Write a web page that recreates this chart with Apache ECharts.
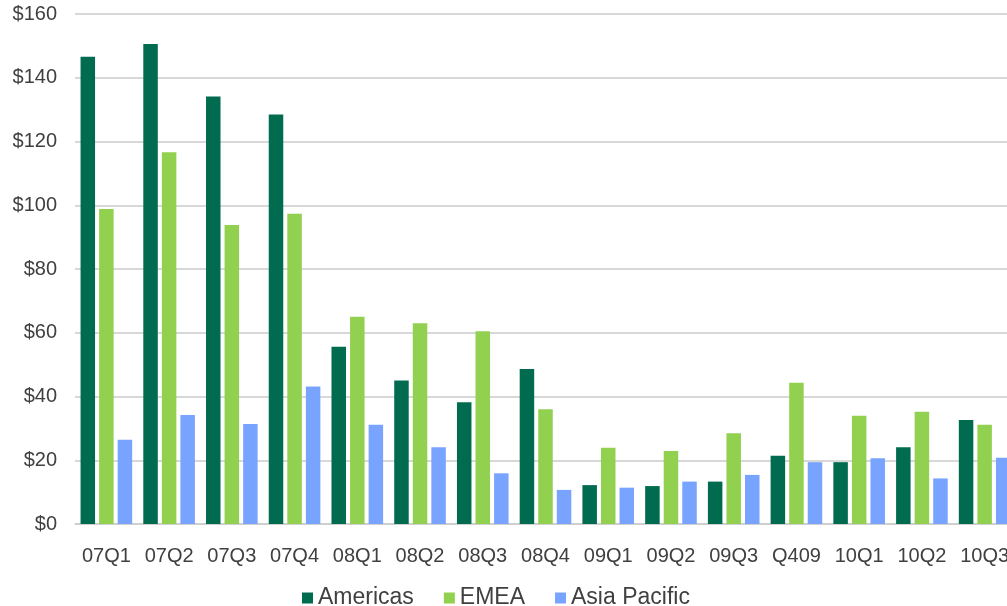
<!DOCTYPE html>
<html>
<head>
<meta charset="utf-8">
<script src="https://cdn.jsdelivr.net/npm/echarts@6/dist/echarts.min.js"></script>
<style>
  html, body { margin: 0; padding: 0; background: #ffffff; overflow: hidden; }
  /* canvas runs a little past the right edge so the last quarter is clipped */
  #chart { width: 1016px; height: 606px; }
</style>
</head>
<body>
<div id="chart"></div>
<script>
// Quarterly revenue by region ($)
const quarters = ['07Q1', '07Q2', '07Q3', '07Q4', '08Q1', '08Q2', '08Q3', '08Q4',
                  '09Q1', '09Q2', '09Q3', 'Q409', '10Q1', '10Q2', '10Q3'];
const americas = [146.6, 150.6, 134.1, 128.5, 55.6, 45.0, 38.2, 48.6, 12.2, 11.9, 13.3, 21.4, 19.4, 24.1, 32.6];
const emea     = [98.8, 116.6, 93.8, 97.3, 65.0, 63.0, 60.5, 36.0, 23.9, 22.9, 28.5, 44.3, 34.0, 35.2, 31.1];
const asiaPac  = [26.4, 34.2, 31.4, 43.1, 31.1, 24.1, 15.9, 10.7, 11.4, 13.3, 15.4, 19.4, 20.6, 14.3, 20.8];

const seriesNames = ['Americas', 'EMEA', 'Asia Pacific'];
const seriesColors = ['#006B4F', '#92D050', '#78A4FF'];
const seriesData = [americas, emea, asiaPac];

const textColor = '#404040';
const font = 'Liberation Sans, Arial, sans-serif';

const chart = echarts.init(document.getElementById('chart'), null, { renderer: 'canvas' });

chart.setOption({
  animation: false,
  backgroundColor: '#ffffff',
  color: seriesColors,
  grid: { left: 75, right: 0, top: 14, bottom: 82, containLabel: false },
  legend: {
    data: seriesNames,
    left: 297,
    top: 581,
    itemWidth: 11,
    itemHeight: 11,
    itemGap: 30,
    icon: 'rect',
    textStyle: { color: textColor, fontSize: 23, fontFamily: font, lineHeight: 24 }
  },
  xAxis: {
    type: 'category',
    data: quarters,
    axisLine: { show: true, lineStyle: { color: '#cccccc', width: 1.5 } },
    axisTick: { show: false },
    axisLabel: {
      color: textColor, fontSize: 20, fontFamily: font, margin: 22, lineHeight: 20,
      interval: 0
    }
  },
  yAxis: {
    type: 'value',
    min: 0,
    max: 160,
    interval: 20,
    axisLine: { show: false },
    axisTick: { show: false },
    splitLine: { lineStyle: { color: '#cbcbcb', width: 1.5 } },
    axisLabel: {
      color: textColor, fontSize: 20, fontFamily: font, margin: 18,
      formatter: v => '$' + v
    }
  },
  series: seriesNames.map((name, i) => ({
    name: name,
    type: 'bar',
    data: seriesData[i],
    barWidth: 14.5,
    barGap: '28%',
    itemStyle: { color: seriesColors[i] }
  }))
});
</script>
</body>
</html>
